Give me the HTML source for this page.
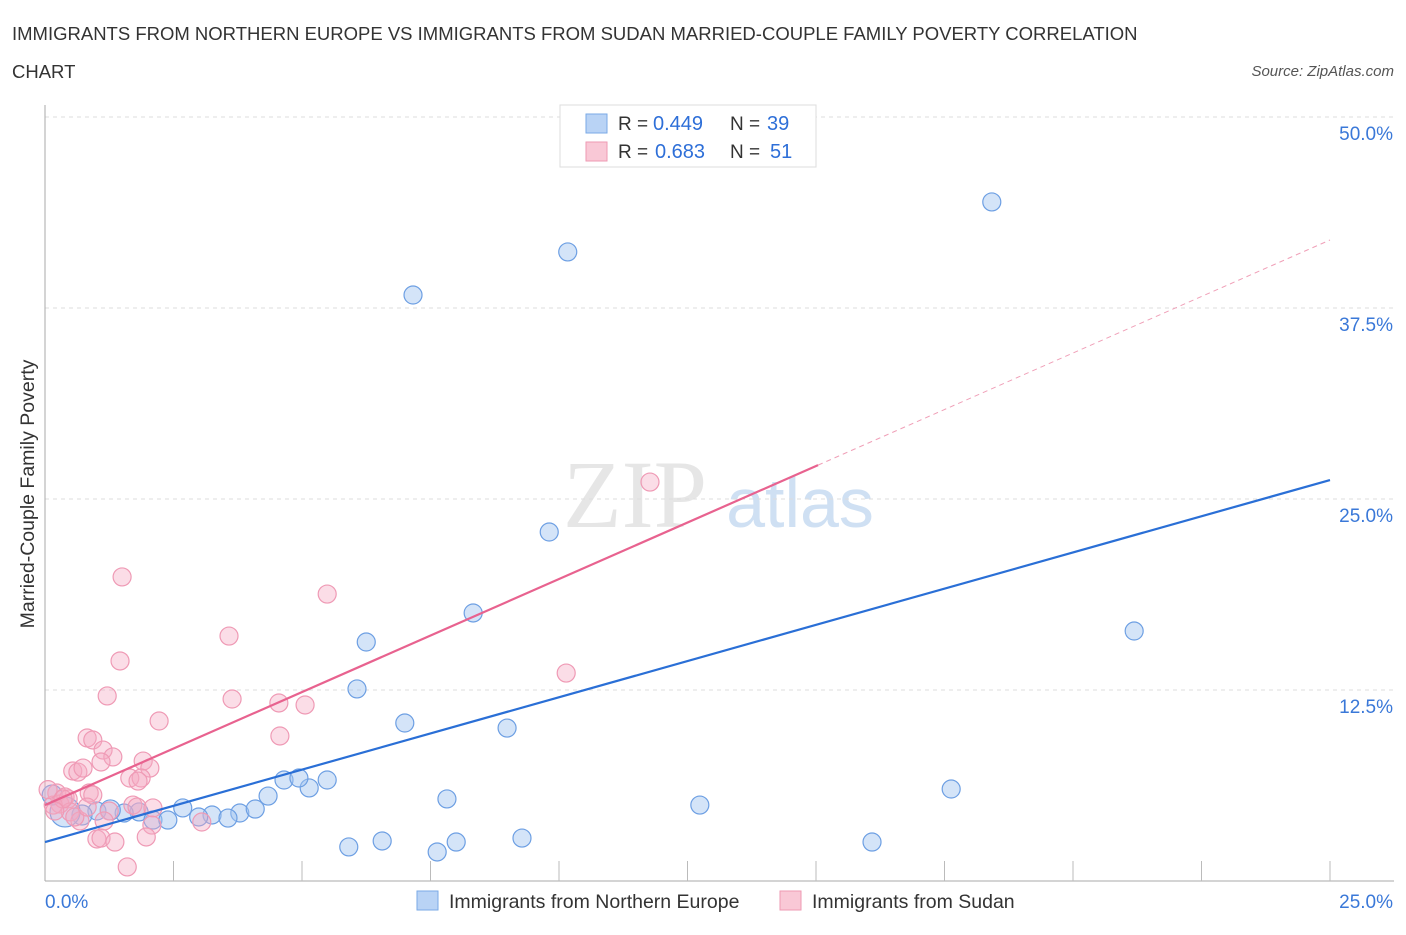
<!DOCTYPE html>
<html><head><meta charset="utf-8"><style>
body{margin:0;background:#fff;font-family:"Liberation Sans",sans-serif;}
</style></head><body>
<svg id="c" width="1406" height="930" xmlns="http://www.w3.org/2000/svg">
<text x="12" y="40" font-size="18.5" fill="#333">IMMIGRANTS FROM NORTHERN EUROPE VS IMMIGRANTS FROM SUDAN MARRIED-COUPLE FAMILY POVERTY CORRELATION</text>
<text x="12" y="78" font-size="18.5" fill="#333">CHART</text>
<text x="1394" y="76" font-size="15" fill="#555" font-style="italic" text-anchor="end">Source: ZipAtlas.com</text>
<text x="635" y="527" font-size="96" fill="#e6e6e6" font-family="Liberation Serif" text-anchor="middle">ZIP</text>
<text x="800" y="527" font-size="70" fill="#cfe0f3" text-anchor="middle">atlas</text>
<text transform="translate(34,494) rotate(-90)" font-size="19.5" fill="#333" text-anchor="middle">Married-Couple Family Poverty</text>
<g id="g"></g>
<g>
<rect x="560" y="105" width="256" height="62" fill="#fff" stroke="#ddd"/>
<rect x="586" y="114" width="21" height="19" fill="#b9d3f5" stroke="#7aa9e6"/>
<rect x="586" y="142" width="21" height="19" fill="#f9c8d6" stroke="#ee9ab3"/>
<text x="618" y="130" font-size="19" fill="#333">R =</text>
<text x="653" y="130" font-size="20" fill="#2e6fd8">0.449</text>
<text x="730" y="130" font-size="19" fill="#333">N =</text>
<text x="767" y="130" font-size="20" fill="#2e6fd8">39</text>
<text x="618" y="158" font-size="19" fill="#333">R =</text>
<text x="655" y="158" font-size="20" fill="#2e6fd8">0.683</text>
<text x="730" y="158" font-size="19" fill="#333">N =</text>
<text x="770" y="158" font-size="20" fill="#2e6fd8">51</text>
</g>
<g>
<rect x="417" y="891" width="21" height="19" fill="#b9d3f5" stroke="#7aa9e6"/>
<text x="449" y="908" font-size="19.5" fill="#333">Immigrants from Northern Europe</text>
<rect x="780" y="891" width="21" height="19" fill="#f9c8d6" stroke="#ee9ab3"/>
<text x="812" y="908" font-size="19.5" fill="#333">Immigrants from Sudan</text>
</g>
</svg>
<script>
const yTicks=[12.5,25,37.5,50];
const yTickLabels=["12.5%","25.0%","37.5%","50.0%"];
const xTickLabels=["0.0%","25.0%"];
const blueX=[18.42,10.17,7.16,9.81,8.33,6.25,6.07,7.0,8.99,21.19,4.65,5.14,4.94,5.49,4.34,7.82,17.63,12.74,2.68,3.25,3.79,4.09,1.83,1.54,1.01,2.99,3.56,2.1,2.39,6.56,9.28,8.0,5.91,7.63,16.09,0.72,0.39,0.14,1.27];
const blueY=[44.44,41.17,38.35,22.84,17.54,15.64,12.57,10.34,10.01,16.36,6.61,6.09,6.74,6.61,5.56,5.37,6.02,4.97,4.78,4.32,4.45,4.71,4.52,4.45,4.58,4.19,4.12,3.99,3.99,2.62,2.81,2.55,2.23,1.90,2.55,4.32,4.52,5.63,4.65];
const pinkX=[11.77,1.5,5.49,3.58,1.46,1.21,3.64,4.55,5.06,2.22,4.57,10.14,0.82,0.93,1.13,1.32,1.09,1.91,2.04,0.54,0.64,0.74,1.65,1.87,1.81,0.86,0.93,0.23,0.39,1.25,1.71,1.79,2.1,0.29,0.45,0.16,0.49,0.68,1.15,2.08,3.05,1.01,1.09,1.36,1.97,1.6,0.35,0.06,0.19,0.58,0.82];
const pinkY=[26.11,19.9,18.78,16.03,14.4,12.11,11.91,11.65,11.52,10.47,9.49,13.61,9.36,9.23,8.57,8.12,7.79,7.85,7.39,7.2,7.13,7.39,6.74,6.74,6.54,5.76,5.63,5.76,5.5,4.58,4.97,4.84,4.78,5.04,5.37,4.97,4.52,3.93,3.93,3.66,3.86,2.75,2.81,2.55,2.88,0.92,5.37,5.98,4.58,4.19,4.84];
const blueLine=[2.55,26.24];
const pinkLine=[4.97,41.95],pinkSolidEnd=15.04;
const X0=45,X1=1330,Y0=881,Y1=117;
const sx=v=>X0+v/25*(X1-X0), sy=v=>Y0-v/50*(Y0-Y1);
const NS="http://www.w3.org/2000/svg",g=document.getElementById('g');
function mk(t,a){const e=document.createElementNS(NS,t);for(const k in a)e.setAttribute(k,a[k]);g.appendChild(e);return e;}
yTicks.forEach((v,i)=>{
const l=mk('line',{x1:X0,x2:1394,y1:sy(v),y2:sy(v),stroke:'#ddd','stroke-dasharray':'4,4'});


const t=mk('text',{x:1393,y:sy(v)+23,'font-size':19,fill:'#3a78d8','text-anchor':'end'});t.textContent=yTickLabels[i];


});
const ax=mk('line',{x1:X0,x2:X0,y1:105,y2:Y0,stroke:'#aaa'});


const bx=mk('line',{x1:X0,x2:1394,y1:Y0,y2:Y0,stroke:'#aaa'});


for(let i=1;i<=10;i++){const x=sx(i*2.5);const t=mk('line',{x1:x,x2:x,y1:Y0,y2:Y0-20,stroke:'#bbb'});

}
[[0,'start',X0],[25,'end',1393]].forEach((d,i)=>{const t=mk('text',{x:d[2],y:908,'font-size':19,fill:'#3a78d8','text-anchor':d[1]});t.textContent=xTickLabels[i];

});
blueX.forEach((x,i)=>{const c=mk('circle',{cx:sx(x),cy:sy(blueY[i]),r:i>=35?(i==36?15:10):9,fill:'rgba(160,195,240,0.45)',stroke:'#6d9fe3','stroke-width':1.2});

});
pinkX.forEach((x,i)=>{const c=mk('circle',{cx:sx(x),cy:sy(pinkY[i]),r:9,fill:'rgba(246,170,195,0.4)',stroke:'#ef9ab5','stroke-width':1.2});

});
const bl=mk('line',{x1:sx(0),y1:sy(blueLine[0]),x2:sx(25),y2:sy(blueLine[1]),stroke:'#2a6fd6','stroke-width':2.2});


const pv=x=>pinkLine[0]+(pinkLine[1]-pinkLine[0])*x/25;
const pl=mk('line',{x1:sx(0),y1:sy(pv(0)),x2:sx(pinkSolidEnd),y2:sy(pv(pinkSolidEnd)),stroke:'#e8628f','stroke-width':2.2});


const pd=mk('line',{x1:sx(pinkSolidEnd),y1:sy(pv(pinkSolidEnd)),x2:sx(25),y2:sy(pv(25)),stroke:'#f0a0b8','stroke-width':1,'stroke-dasharray':'5,4'});


</script>
</body></html>
